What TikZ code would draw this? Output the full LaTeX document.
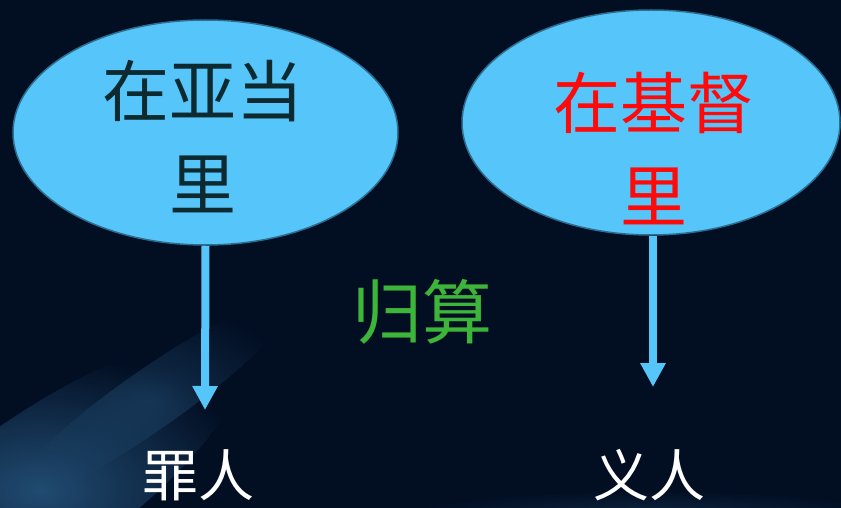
\documentclass[tikz,border=0pt]{standalone}
\usepackage{fontspec}
\newfontfamily\cjk{Noto Sans CJK SC}
\usetikzlibrary{arrows.meta,shapes.geometric,fadings}
\tikzfading[name=softglow, inner color=transparent!0, outer color=transparent!100]
\definecolor{bgcol}{HTML}{020E22}
\definecolor{streak}{HTML}{24527A}
\definecolor{ellfill}{HTML}{55C5FA}
\definecolor{elldraw}{HTML}{2B6E8F}
\definecolor{arrcol}{HTML}{55C5FA}
\definecolor{txtdark}{HTML}{0C2A30}
\definecolor{txtred}{HTML}{FF0A0A}
\definecolor{txtgreen}{HTML}{3DB43A}
\tikzset{
  bubble/.style={ellipse, draw=elldraw, line width=1.5pt, fill=ellfill, inner sep=0pt},
  bigtext/.style={font=\cjk\fontsize{67}{93}\selectfont, align=center, inner sep=0pt},
  labeltext/.style={font=\cjk\fontsize{56}{60}\selectfont, text=white, inner sep=0pt},
  midtext/.style={font=\cjk\fontsize{70}{72}\selectfont, text=txtgreen, inner sep=0pt},
  downarrow/.style={draw=arrcol, line width=8pt, -{Triangle[width=24pt,length=24pt]}},
  glow/.style={fill=streak, path fading=softglow}
}
\begin{document}
\begin{tikzpicture}[x=1pt,y=-1pt]
\useasboundingbox (0,0) rectangle (841,508);
\fill[bgcol] (0,0) rectangle (841,508);
\begin{scope}
  \clip (0,0) rectangle (841,508);
  \fill[glow, fill opacity=0.9, rotate around={35:(40,490)}] (40,490) ellipse (240pt and 75pt);
  \fill[glow, fill opacity=0.5, rotate around={35:(150,400)}] (150,400) ellipse (170pt and 30pt);
  \fill[glow, fill opacity=0.35] (650,515) ellipse (250pt and 25pt);
\end{scope}
\node[bubble, minimum width=385pt, minimum height=225pt] (adam) at (205.5,132.5) {};
\node[bubble, minimum width=378pt, minimum height=225pt] (christ) at (651,122.5) {};
\node[bigtext, text=txtdark] (adamtxt) at (203,137) {在亚当\\里};
\node[bigtext, text=txtred] (christtxt) at (654,149) {在基督\\里};
\coordinate (tipL) at (205,410);
\coordinate (tipR) at (653,387);
\draw[downarrow] (adam.south) -- (tipL);
\draw[downarrow] (christ.south -| tipR) -- (tipR);
\node[midtext] (impute) at (422,312) {归算};
\node[labeltext] (sinner) at (198,475) {罪人};
\node[labeltext] (righteous) at (649,475) {义人};
\end{tikzpicture}
\end{document}
